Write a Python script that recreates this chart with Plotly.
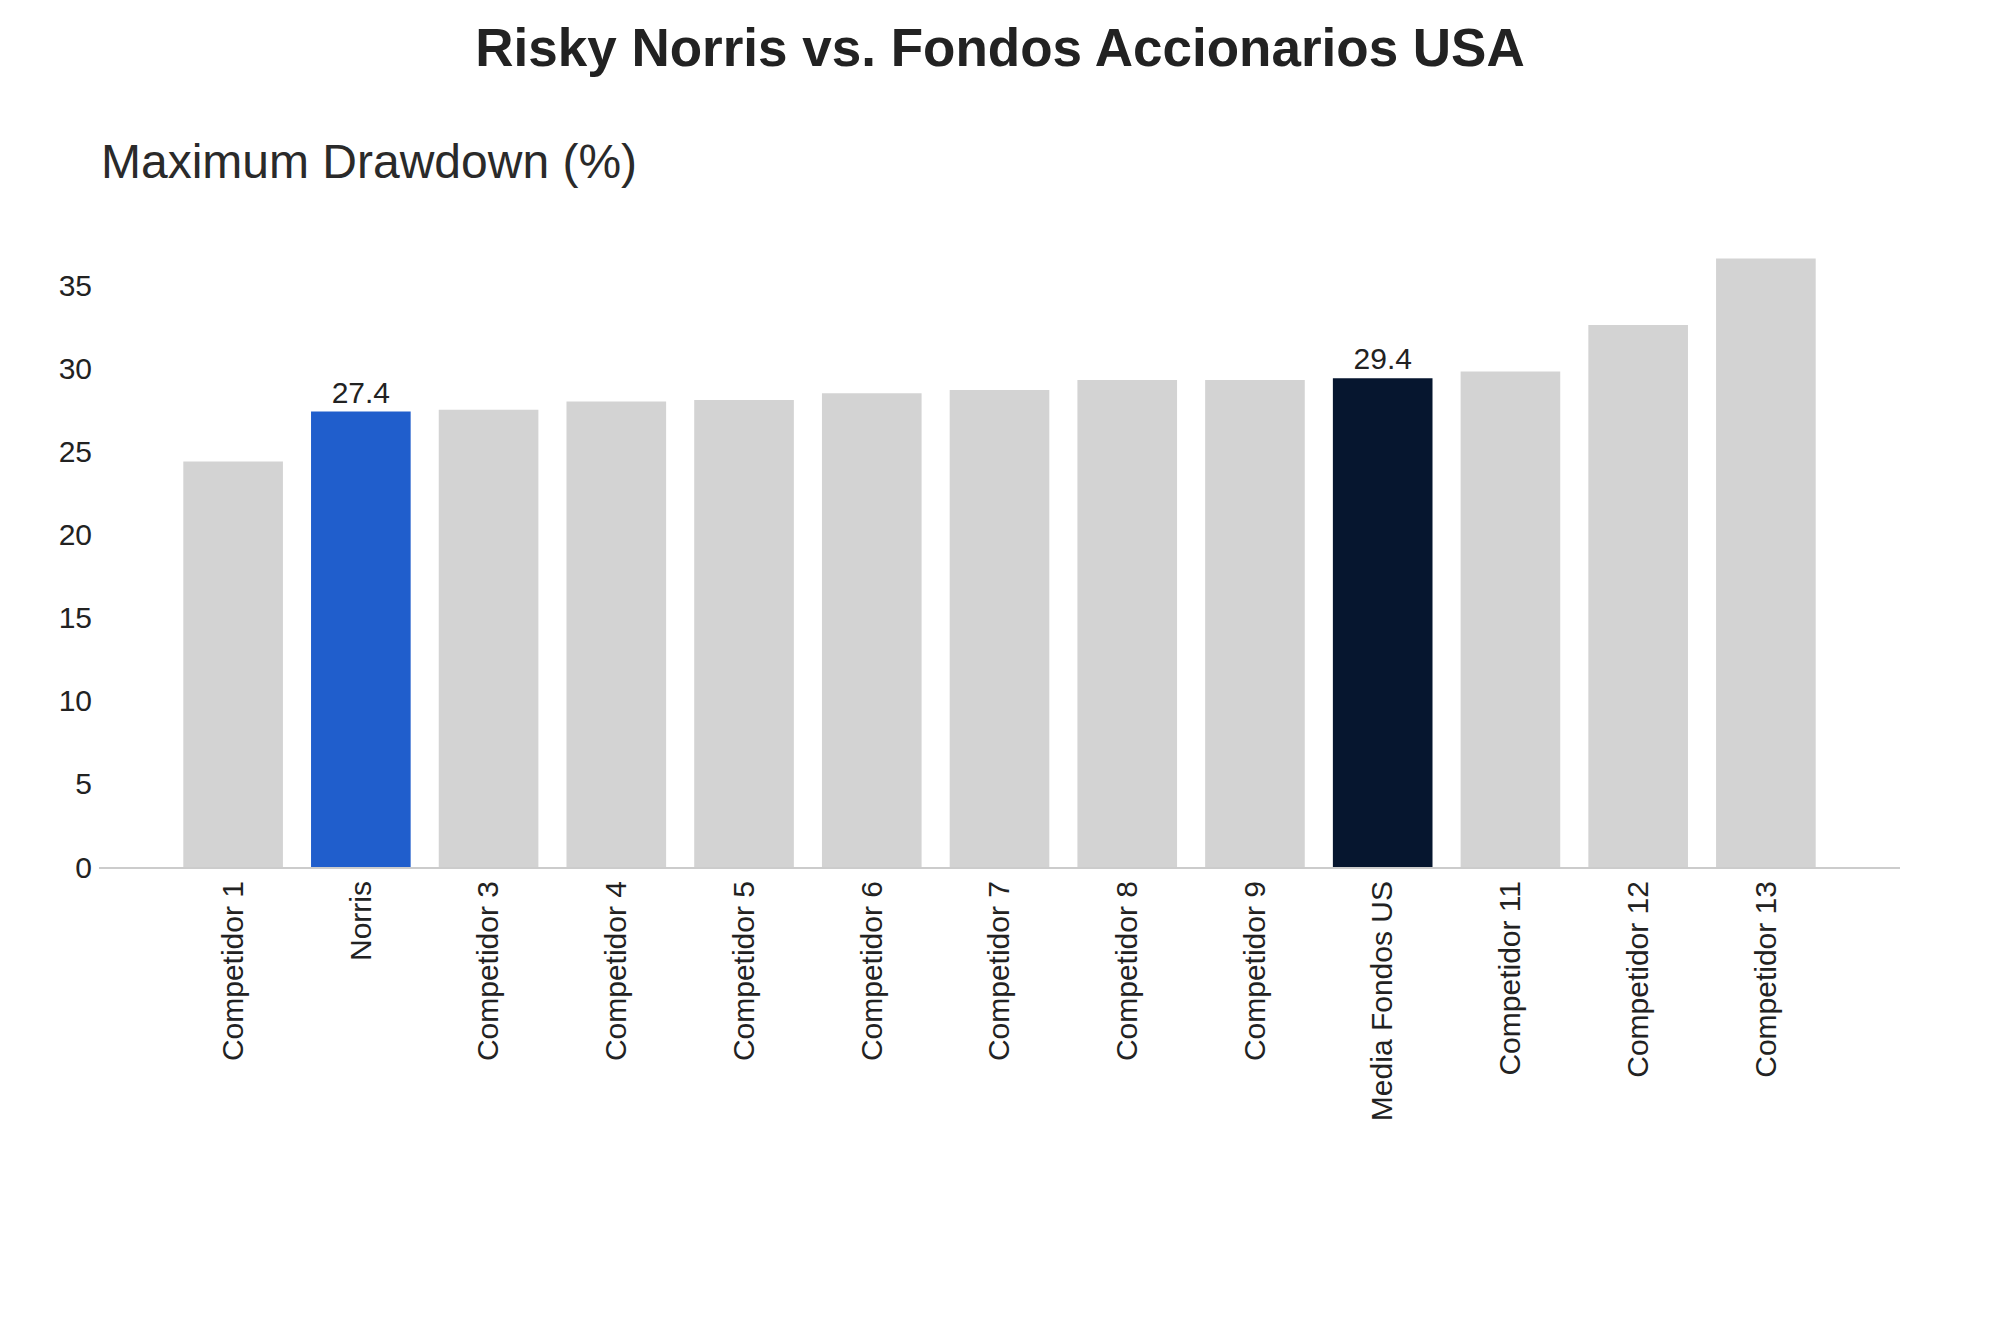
import plotly.graph_objects as go

funds = [
    "Competidor 1", "Norris", "Competidor 3", "Competidor 4", "Competidor 5",
    "Competidor 6", "Competidor 7", "Competidor 8", "Competidor 9",
    "Media Fondos US", "Competidor 11", "Competidor 12", "Competidor 13",
]
max_drawdown = [24.4, 27.4, 27.5, 28.0, 28.1, 28.5, 28.7, 29.3, 29.3, 29.4, 29.8, 32.6, 36.6]
highlight = {"Norris": "#205ecc", "Media Fondos US": "#06162f"}

GREY = "#d3d3d3"
FONT = "Arial, Liberation Sans, sans-serif"

colors = [highlight.get(f, GREY) for f in funds]
labels = [f"{v:.1f}" if f in highlight else "" for f, v in zip(funds, max_drawdown)]

fig = go.Figure(go.Bar(
    x=funds,
    y=max_drawdown,
    marker=dict(color=colors, line=dict(width=0)),
    text=labels,
    textposition="outside",
    textfont=dict(size=30, color="#222222", family=FONT),
    cliponaxis=False,
    width=0.78,
))

# page body adds 8px margin, so size the figure to fit inside the window
fig.update_layout(
    template="plotly_white",
    width=1984, height=1317,
    font=dict(family=FONT, size=30, color="#222222"),
    title=dict(
        text="<b>Risky Norris vs. Fondos Accionarios USA</b>",
        x=0.5, xanchor="center", y=0.970, yanchor="middle",
        font=dict(size=53, color="#222222", family=FONT),
    ),
    margin=dict(l=91, r=92, t=219, b=458),
    plot_bgcolor="white",
    paper_bgcolor="white",
    showlegend=False,
)

# subtitle sits above the plot, left aligned
fig.add_annotation(
    text="Maximum Drawdown (%)",
    xref="paper", yref="paper", x=0, y=1.103,
    xanchor="left", yanchor="middle", showarrow=False,
    font=dict(size=48, color="#2a2a2a", family=FONT),
)

fig.update_xaxes(
    range=[-1.05, 12 + 1.05],
    tickangle=-90,
    showgrid=False,
    showline=True, linecolor="#cccccc", linewidth=2,
    ticks="",
    tickfont=dict(size=30, color="#222222"),
)
fig.update_yaxes(
    range=[0, 38.5],
    dtick=5,
    showgrid=False,
    zeroline=False,
    showline=False,
    ticks="",
    ticklabelstandoff=6,
    tickfont=dict(size=30, color="#222222"),
)

fig.write_html("out.html")
